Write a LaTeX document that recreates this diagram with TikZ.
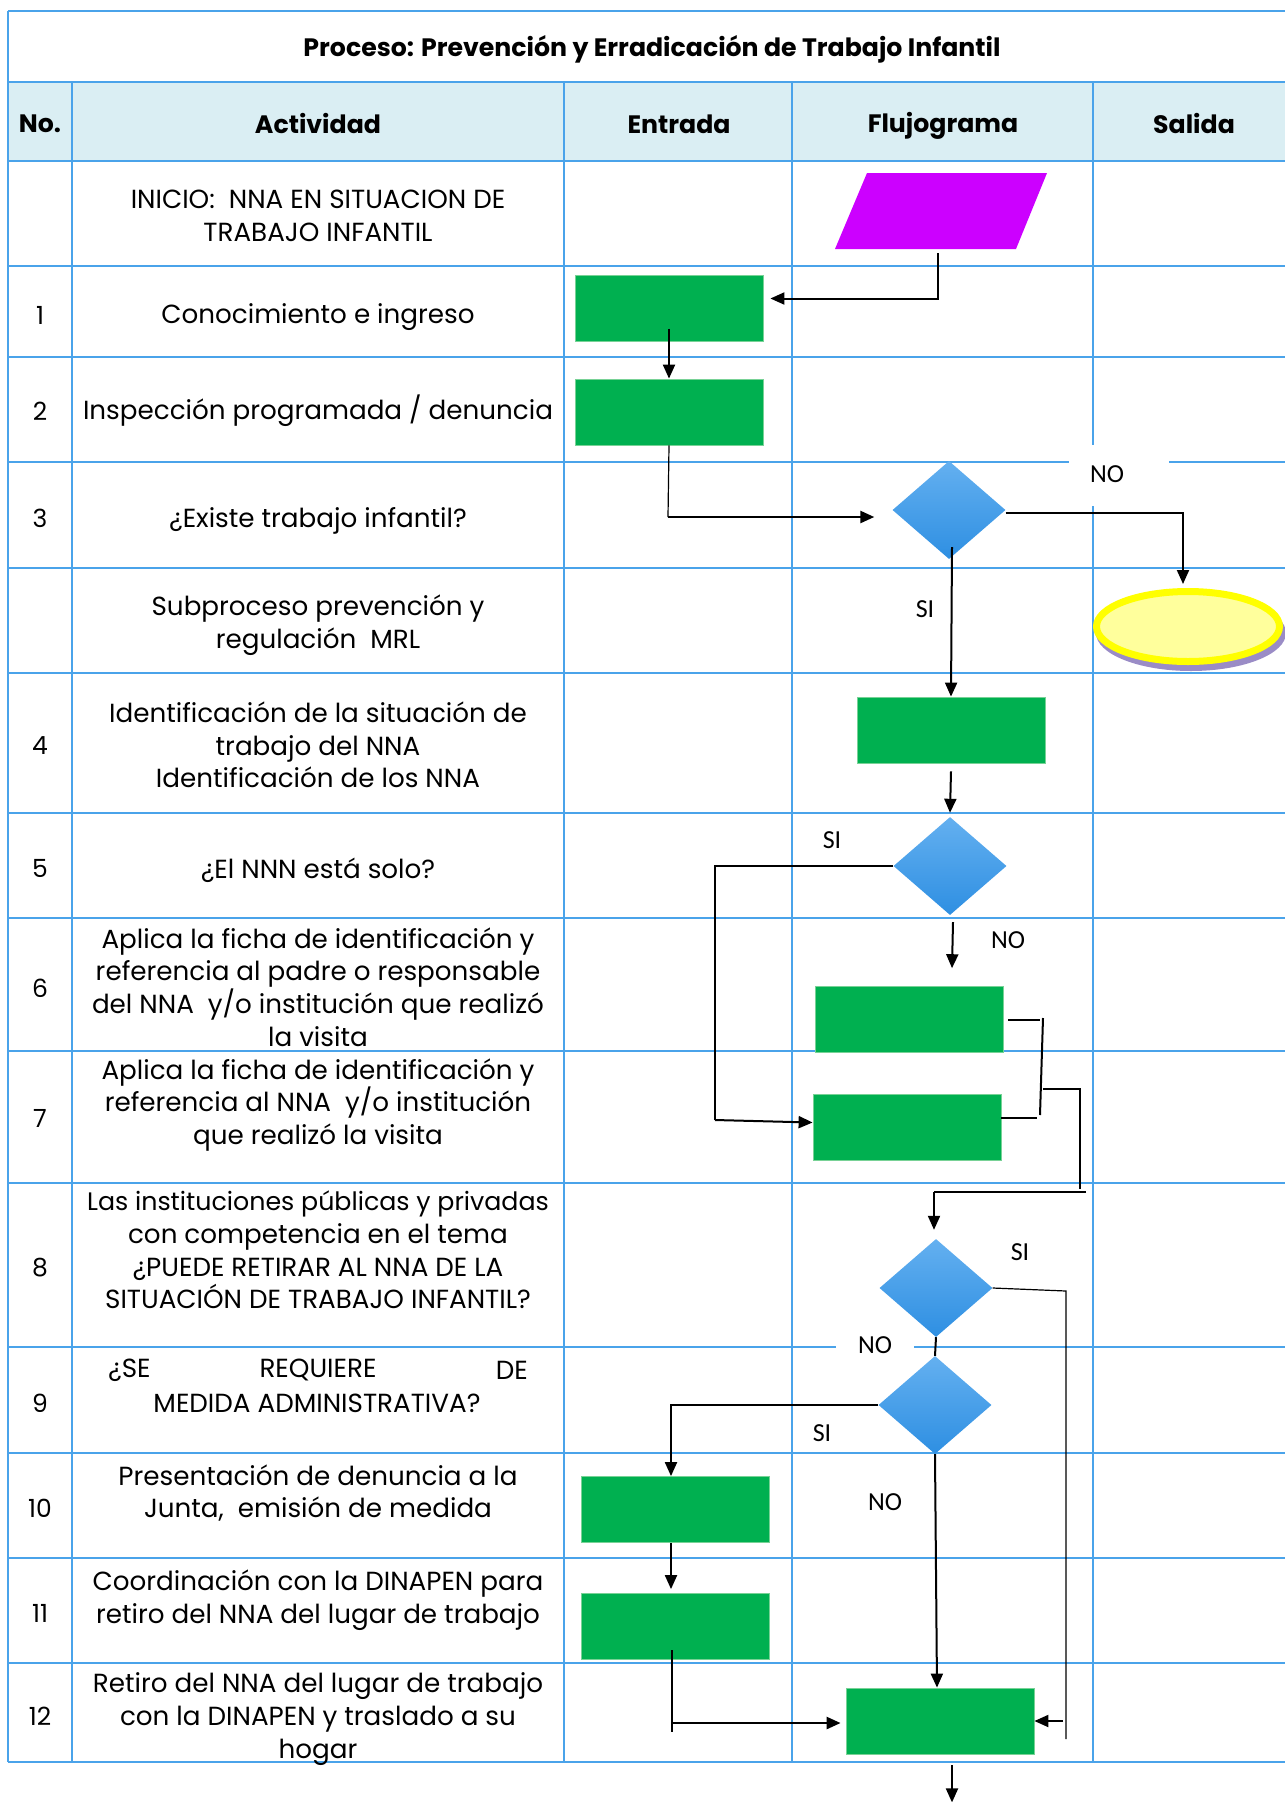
\documentclass[tikz,border=0pt]{standalone}
\usepackage{fontspec}
\setmainfont{Poppins}
\newfontfamily\lblfont{Carlito}
\usetikzlibrary{shapes.geometric,arrows.meta,calc}
\definecolor{tline}{RGB}{74,163,234}
\definecolor{hdrfill}{RGB}{218,238,243}
\definecolor{gfill}{RGB}{0,176,80}
\definecolor{gedge}{RGB}{120,210,150}
\definecolor{magfill}{RGB}{204,0,255}
\definecolor{dtop}{RGB}{100,176,240}
\definecolor{dbot}{RGB}{46,143,226}
\definecolor{yring}{RGB}{255,255,0}
\definecolor{yin}{RGB}{255,255,156}
\definecolor{shad}{RGB}{154,140,198}
\begin{document}
\begin{tikzpicture}[x=1pt,y=-1pt,
  tbl/.style={draw=tline,line width=1.6pt},
  act/.style={font=\fontsize{26.2}{32.7}\selectfont,align=center,inner sep=0},
  num/.style={font=\fontsize{25}{28}\selectfont,inner sep=0},
  hd/.style={font=\bfseries\fontsize{25.2}{28}\selectfont,inner sep=0},
  gbox/.style={rectangle,fill=gfill,draw=gedge,line width=0.8pt,minimum width=188pt,minimum height=66pt,inner sep=0},
  dec/.style={diamond,minimum width=113pt,minimum height=98pt,inner sep=0,top color=dtop,bottom color=dbot,draw=none},
  yn/.style={font=\lblfont\fontsize{26}{28}\selectfont,inner sep=0},
  ln/.style={line width=2pt},
  thinln/.style={line width=1.2pt},
  arr/.style={line width=2pt,-{Triangle[length=14pt,width=12pt]}}
]
\useasboundingbox (0,0) rectangle (1285,1802);
% header fill
\fill[hdrfill] (8,82) rectangle (1285,161);
% horizontal lines
\foreach \yy in {11,82,161,266,357,462,568,673,813,918,1051,1183,1347,1453,1558,1663,1762}
  \draw[tbl] (8,\yy) -- (1285,\yy);
% vertical lines
\draw[tbl] (8,11) -- (8,1762);
\foreach \xx in {72,564,792,1093}
  \draw[tbl] (\xx,82) -- (\xx,1762);
% title and headers
\node[hd] (title) at (652,49) {Proceso: Prevención y Erradicación de Trabajo Infantil};
\node[hd] (hno) at (40,123.5) {No.};
\node[hd] (hact) at (318,123.5) {Actividad};
\node[hd] (hent) at (679,124) {Entrada};
\node[hd] (hflu) at (943,126) {Flujograma};
\node[hd] (hsal) at (1194,123.5) {Salida};
% numbers
\node[num] (n1) at (40,315) {1};
\node[num] (n2) at (40,411) {2};
\node[num] (n3) at (40,518) {3};
\node[num] (n4) at (40,746) {4};
\node[num] (n5) at (40,868) {5};
\node[num] (n6) at (40,988) {6};
\node[num] (n7) at (40,1118) {7};
\node[num] (n8) at (40,1268) {8};
\node[num] (n9) at (40,1403) {9};
\node[num] (n10) at (40,1508) {10};
\node[num] (n11) at (40,1613) {11};
\node[num] (n12) at (40,1716) {12};
% activities
\node[act] (a0) at (318,216) {INICIO:\ \ NNA EN SITUACION DE\\TRABAJO INFANTIL};
\node[act] (a1) at (318,317) {Conocimiento e ingreso};
\node[act] (a2) at (318,411) {Inspección programada / denuncia};
\node[act] (a3) at (318,521) {¿Existe trabajo infantil?};
\node[act] (a3b) at (318,625) {Subproceso prevención y\\regulación\ \ MRL};
\node[act] (a4) at (318,745) {Identificación de la situación de\\trabajo del NNA\\Identificación de los NNA};
\node[act] (a5) at (318,870) {¿El NNN está solo?};
\node[act] (a6) at (318,987) {Aplica la ficha de identificación y\\referencia al padre o responsable\\del NNA\ \ y/o institución que realizó\\la visita};
\node[act] (a7) at (318,1105) {Aplica la ficha de identificación y\\referencia al NNA\ \ y/o institución\\que realizó la visita};
\node[act] (a8) at (318,1250) {{\fontsize{25.3}{32.7}\selectfont Las instituciones públicas y privadas}\\con competencia en el tema\\¿PUEDE RETIRAR AL NNA DE LA\\SITUACIÓN DE TRABAJO INFANTIL?};
\node[act,anchor=west] (a9a) at (108,1370) {¿SE};
\node[act] (a9b) at (318,1370) {REQUIERE};
\node[act,anchor=east] (a9c) at (528,1370) {DE};
\node[act] (a9d) at (317,1403) {MEDIDA ADMINISTRATIVA?};
\node[act] (a10) at (318,1493) {Presentación de denuncia a la\\Junta,\ \ emisión de medida};
\node[act] (a11) at (318,1600) {Coordinación con la DINAPEN para\\retiro del NNA del lugar de trabajo};
\node[act] (a12) at (318,1719) {Retiro del NNA del lugar de trabajo\\con la DINAPEN y traslado a su\\hogar};
% flow shapes
\fill[magfill] (867,173) -- (1047,173) -- (1016,249) -- (835,249) -- cycle;
\coordinate (parb) at (938,253);
\node[gbox] (b1) at (669,308.5) {};
\node[gbox] (b2) at (669,412) {};
\node[dec] (d1) at (949,510) {};
\node[gbox] (b4) at (951,730) {};
\node[dec] (d2) at (950,866) {};
\node[gbox] (b6) at (909,1019.5) {};
\node[gbox] (b7) at (907,1127.5) {};
\node[dec] (d3) at (936,1288) {};
\node[dec] (d4) at (935,1405) {};
\node[gbox] (b10) at (675,1509.5) {};
\node[gbox] (b11) at (675,1626.5) {};
\node[gbox] (b12) at (940,1721) {};
\fill[shad] (1191,633) ellipse [x radius=95, y radius=38];
\node[ellipse,draw=yring,line width=7pt,fill=yin,minimum width=183pt,minimum height=70pt,inner sep=0] (fin) at (1188,626.5) {};
% label backgrounds
\fill[white] (1069,445) rectangle (1169,506);
\fill[white] (836,1331) rectangle (914,1361);
% labels
\node[yn] (no1) at (1107,474) {NO};
\node[yn] (si1) at (925,609) {SI};
\node[yn] (si2) at (832,840) {SI};
\node[yn] (no2) at (1008,940) {NO};
\node[yn] (si3) at (1020,1252) {SI};
\node[yn] (no3) at (875,1345) {NO};
\node[yn] (si4) at (822,1433) {SI};
\node[yn] (no4) at (885,1502) {NO};
% coordinates
\coordinate (k3) at (668,517);
\coordinate (k7) at (715,1120);
\coordinate (k9a) at (1043,1018);
\coordinate (k9b) at (1040,1115);
\coordinate (k9c) at (1043,1089);
\coordinate (k9d) at (1080,1089);
\coordinate (k9e) at (1080,1189);
\coordinate (k9f) at (1086,1192);
\coordinate (k9g) at (934,1192);
\coordinate (k10a) at (1066,1291);
\coordinate (k10b) at (1066,1739);
\coordinate (k11) at (1063,1721);
\coordinate (k15a) at (672,1650);
\coordinate (k15b) at (672,1732);
\coordinate (k15c) at (672,1723);
% connectors
\draw[arr] (parb) |- ($(b1.east)+(7,-10)$);
\draw[arr] ($(b1.center)+(0,20)$) -- (b2.north);
\draw[thinln] (b2.south) -- (k3);
\draw[arr,line width=2.5pt] (k3) -- ($(d1.west)+(-18,7)$);
\draw[arr] ($(d1.east)+(0,3)$) -| ($(fin.north)+(-5,-4)$);
\draw[arr] ($(d1.south)+(3,-12)$) -- (b4.north);
\draw[arr] ($(b4.south)+(0,8)$) -- ($(d2.north)+(0,-4)$);
\draw[ln] (d2.west) -| (k7);
\draw[arr] (k7) -- ($(b7.west)+(0,-5)$);
\draw[arr] ($(d2.south)+(3,7)$) -- ($(d2.south)+(2,53)$);
\draw[ln] ($(b6.east)+(5,0)$) -- ++(32,0);
\draw[ln] (k9a) -- (k9b);
\draw[ln] ($(b7.east)+(0,-9.5)$) -- ++(36,0);
\draw[ln] (k9c) -- (k9d) -- (k9e);
\draw[ln] (k9f) -- (k9g);
\draw[arr] (k9g) -- ($(d3.north)+(-2,-9)$);
\draw[thinln] (d3.east) -- (k10a) -- (k10b);
\draw[arr] (k11) -- (b12.east);
\draw[ln] (d3.south) -- (d4.north);
\draw[arr] (d4.west) -| ($(b10.north)+(-4,0)$);
\draw[arr] ($(b10.south)+(-4,0)$) -- ($(b11.north)+(-4,-4)$);
\draw[thinln] (k15a) -- (k15b);
\draw[arr,line width=2.5pt] (k15c) -- ($(b12.west)+(-5,2)$);
\draw[arr] (d4.south) -- ($(b12.north)+(-3,0)$);
\draw[arr] ($(b12.south)+(12,11)$) -- ++(0,37);
\end{tikzpicture}
\end{document}
